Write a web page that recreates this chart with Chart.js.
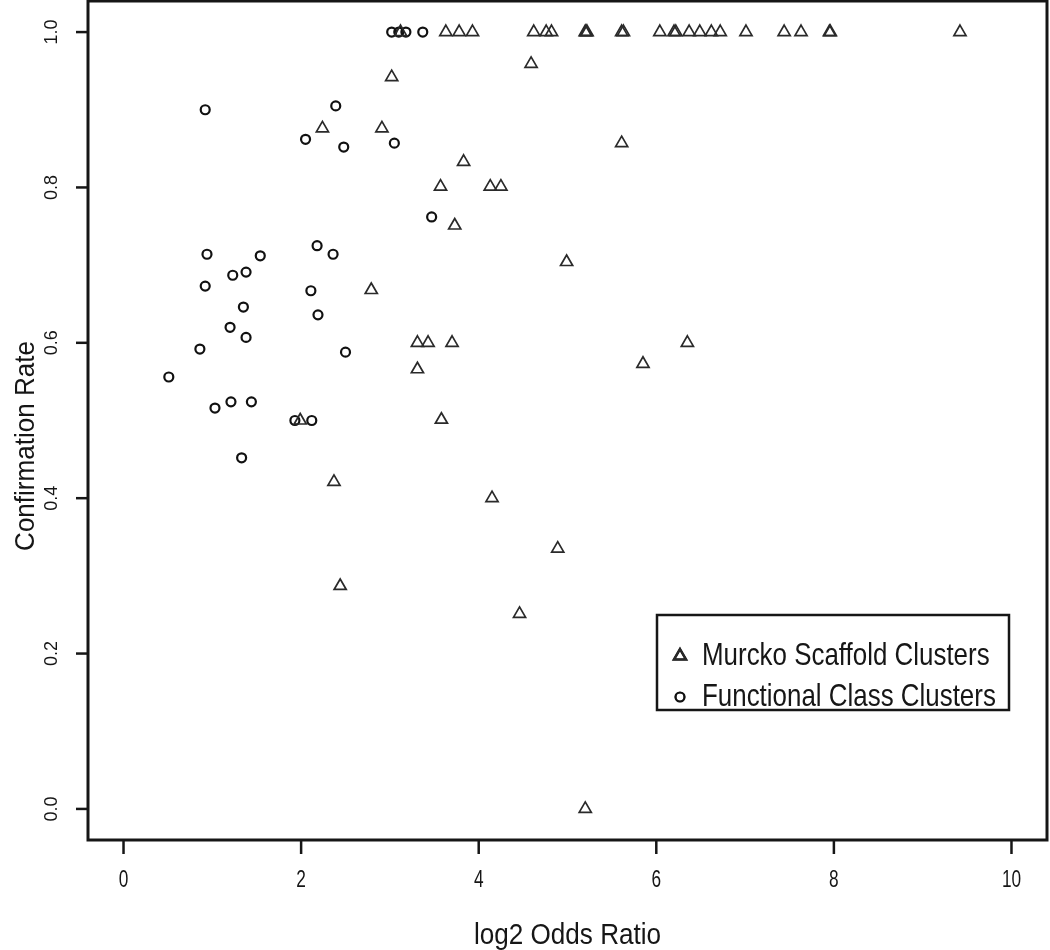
<!DOCTYPE html>
<html>
<head>
<meta charset="utf-8">
<script src="https://cdn.jsdelivr.net/npm/chart.js@4.4.1/dist/chart.umd.min.js"></script>
<style>
  html, body { margin: 0; padding: 0; background: #fff; }
  canvas { display: block; background: #fff; }
</style>
</head>
<body>
<canvas id="scatterChart" width="1050" height="950"></canvas>
<script>
/* ========================
   DATA
=========================*/
// Murcko Scaffold Clusters (triangles)
const murckoX = [
  3.12, 3.63, 3.78, 3.93, 4.62, 4.76, 4.82, 5.20, 5.21, 5.22, 5.61, 5.63,
  6.04, 6.20, 6.22, 6.37, 6.49, 6.62, 6.72, 7.01, 7.44, 7.63, 7.95, 7.96, 9.42,
  3.02, 4.59, 2.24, 2.91, 3.83, 3.57, 4.13, 4.25, 3.73, 5.61, 4.99, 2.79,
  3.31, 3.43, 3.70, 6.35, 5.85, 3.31, 3.58, 1.99, 2.37, 4.15, 4.89, 2.44, 4.46, 5.20
];
const murckoY = [
  1.0, 1.0, 1.0, 1.0, 1.0, 1.0, 1.0, 1.0, 1.0, 1.0, 1.0, 1.0,
  1.0, 1.0, 1.0, 1.0, 1.0, 1.0, 1.0, 1.0, 1.0, 1.0, 1.0, 1.0, 1.0,
  0.942, 0.959, 0.876, 0.876, 0.833, 0.801, 0.801, 0.801, 0.751, 0.857, 0.704, 0.668,
  0.600, 0.600, 0.600, 0.600, 0.573, 0.566, 0.501, 0.500, 0.421, 0.400, 0.335, 0.287, 0.251, 0.0
];

// Functional Class Clusters (circles)
const functionalX = [
  3.02, 3.10, 3.18, 3.37,
  0.92, 2.39, 2.05, 2.48, 3.05, 3.47, 0.94, 1.54, 2.18, 2.36, 1.23, 1.38,
  0.92, 2.11, 2.19, 1.35, 1.20, 1.38, 0.86, 2.50, 0.51, 1.03, 1.21, 1.44,
  1.93, 2.12, 1.33
];
const functionalY = [
  1.0, 1.0, 1.0, 1.0,
  0.900, 0.905, 0.862, 0.852, 0.857, 0.762, 0.714, 0.712, 0.725, 0.714, 0.687, 0.691,
  0.673, 0.667, 0.636, 0.646, 0.620, 0.607, 0.592, 0.588, 0.556, 0.516, 0.524, 0.524,
  0.500, 0.500, 0.452
];

const seriesNames = ['Murcko Scaffold Clusters', 'Functional Class Clusters'];

const xTicks = [0, 2, 4, 6, 8, 10];
const xTickLabels = ['0', '2', '4', '6', '8', '10'];
const yTicks = [0, 0.2, 0.4, 0.6, 0.8, 1.0];
const yTickLabels = ['0.0', '0.2', '0.4', '0.6', '0.8', '1.0'];

const xTitle = 'log2 Odds Ratio';
const yTitle = 'Confirmation Rate';

/* ========================
   HELPERS
=========================*/
const ink = '#161616';
const fontFam = '"Liberation Sans", Arial, sans-serif';

function toPoints(xs, ys) {
  return xs.map((x, i) => ({ x: x, y: ys[i] }));
}

// text with a squeeze along its own direction (sx) so it looks like the condensed original
function drawText(ctx, str, x, y, size, sx, rot, align, baseline) {
  ctx.save();
  ctx.translate(x, y);
  ctx.rotate(rot);
  ctx.scale(sx, 1);
  ctx.font = size + 'px ' + fontFam;
  ctx.fillStyle = ink;
  ctx.textAlign = align;
  ctx.textBaseline = baseline;
  ctx.fillText(str, 0, 0);
  ctx.restore();
}

/* ========================
   AXES / FRAME / LEGEND PLUGIN
=========================*/
const rAxesPlugin = {
  id: 'rAxes',
  afterDraw(chart) {
    const ctx = chart.ctx;
    const a = chart.chartArea;
    const xs = chart.scales.x;
    const ys = chart.scales.y;

    ctx.save();
    ctx.strokeStyle = ink;
    ctx.lineWidth = 3;
    ctx.strokeRect(a.left, a.top, a.right - a.left, a.bottom - a.top);

    // x ticks
    ctx.lineWidth = 2.5;
    xTicks.forEach((v, i) => {
      const px = xs.getPixelForValue(v);
      ctx.beginPath();
      ctx.moveTo(px, a.bottom);
      ctx.lineTo(px, a.bottom + 14);
      ctx.stroke();
      drawText(ctx, xTickLabels[i], px, 881, 23, 0.75, 0, 'center', 'middle');
    });

    // y ticks (labels rotated like R)
    yTicks.forEach((v, i) => {
      const py = ys.getPixelForValue(v);
      ctx.beginPath();
      ctx.moveTo(a.left, py);
      ctx.lineTo(a.left - 12, py);
      ctx.stroke();
      drawText(ctx, yTickLabels[i], 52, py, 18, 1, -Math.PI / 2, 'center', 'middle');
    });

    // axis titles
    drawText(ctx, xTitle, (a.left + a.right) / 2, 944, 30, 0.87, 0, 'center', 'alphabetic');
    drawText(ctx, yTitle, 26, 446, 28, 0.93, -Math.PI / 2, 'center', 'middle');

    // legend box
    ctx.lineWidth = 2.5;
    ctx.strokeRect(657, 615, 352, 95);
    const ds = chart.data.datasets;
    const rows = [656, 697];
    ds.forEach((d, i) => {
      Chart.helpers.drawPoint(ctx, {
        pointStyle: d.pointStyle,
        radius: d.pointRadius,
        rotation: 0,
        borderWidth: d.borderWidth
      }, 680, rows[i]);
      ctx.strokeStyle = d.borderColor;
      ctx.lineWidth = d.borderWidth;
      ctx.stroke();
      drawText(ctx, d.label, 702, rows[i], 32, 0.81, 0, 'left', 'middle');
    });
    ctx.restore();
  }
};

/* ========================
   SCATTER CHART
=========================*/
const ctxScatter = document.getElementById('scatterChart').getContext('2d');

const dataScatter = {
  datasets: [
    {
      label: seriesNames[0],
      data: toPoints(murckoX, murckoY),
      pointStyle: 'triangle',
      pointRadius: 7,
      borderWidth: 1.7,
      borderColor: '#2a2a2a',
      backgroundColor: 'rgba(0,0,0,0)',
      clip: false
    },
    {
      label: seriesNames[1],
      data: toPoints(functionalX, functionalY),
      pointStyle: 'circle',
      pointRadius: 4.5,
      borderWidth: 2.2,
      borderColor: '#111',
      backgroundColor: 'rgba(0,0,0,0)',
      clip: false
    }
  ]
};

const configScatter = {
  type: 'scatter',
  data: dataScatter,
  options: {
    responsive: false,
    animation: false,
    devicePixelRatio: 1,
    layout: {
      autoPadding: false,
      padding: { left: 88, right: 3, top: 1, bottom: 110 }
    },
    scales: {
      x: { type: 'linear', min: -0.4, max: 10.4, display: false },
      y: { type: 'linear', min: -0.04, max: 1.04, display: false }
    },
    plugins: {
      legend: { display: false },
      tooltip: { enabled: false }
    }
  },
  plugins: [rAxesPlugin]
};

new Chart(ctxScatter, configScatter);
</script>
</body>
</html>
